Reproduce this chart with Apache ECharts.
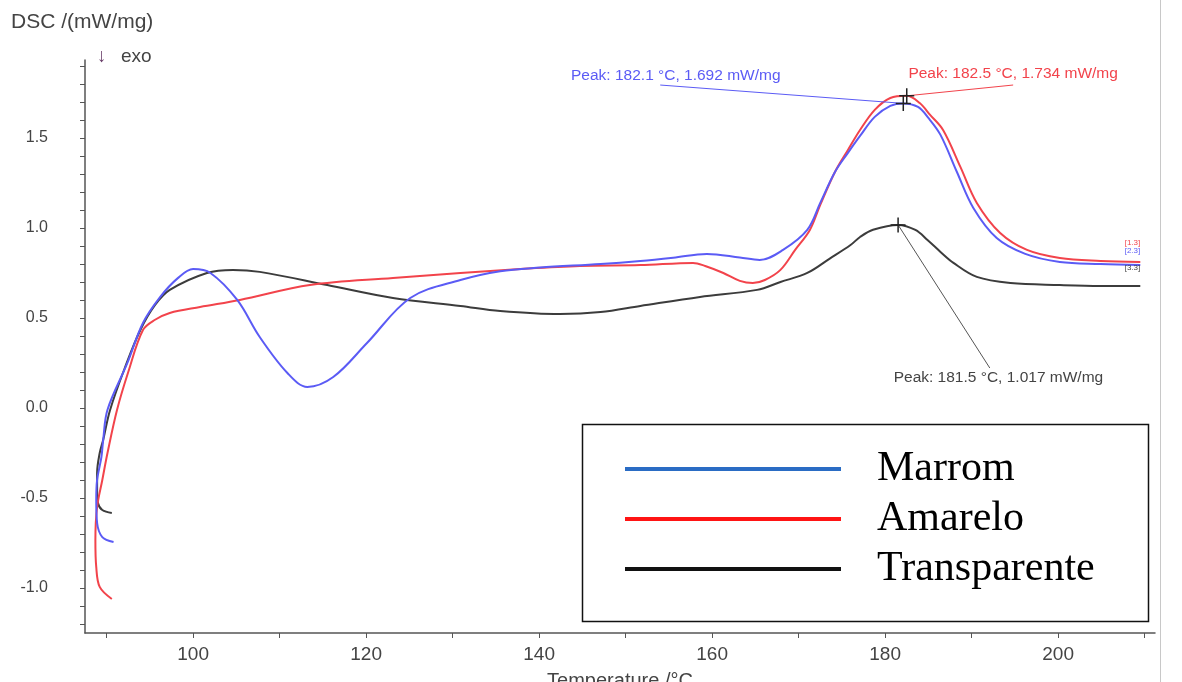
<!DOCTYPE html>
<html>
<head>
<meta charset="utf-8">
<title>DSC curves</title>
<script src="https://cdn.jsdelivr.net/npm/echarts@6/dist/echarts.min.js"></script>
<style>
  html, body { margin: 0; padding: 0; background: #ffffff; }
  #chart { width: 1182px; height: 682px; }
</style>
</head>
<body>
<div id="chart"></div>
<script>
// ── Data (temperature °C, DSC mW/mg) ─────────────────────────────────────────

var xTicks  = [90, 100, 110, 120, 130, 140, 150, 160, 170, 180, 190, 200, 210];
var xLabels = [100, 120, 140, 160, 180, 200];
var yTicks  = [-1.2, -1.1, -1.0, -0.9, -0.8, -0.7, -0.6, -0.5, -0.4, -0.3, -0.2, -0.1,
               0.0, 0.1, 0.2, 0.3, 0.4, 0.5, 0.6, 0.7, 0.8, 0.9, 1.0, 1.1, 1.2, 1.3,
               1.4, 1.5, 1.6, 1.7, 1.8, 1.9];
var yLabels = [-1.0, -0.5, 0.0, 0.5, 1.0, 1.5];

var names = ['Marrom', 'Amarelo', 'Transparente'];

var marrom = [
  [90.8, -0.744], [89.5, -0.717], [88.9, -0.639], [88.8, -0.511], [88.9, -0.40],
  [89.4, -0.272], [89.6, -0.178], [90.1, -0.01], [92.4, 0.25], [94.2, 0.472],
  [96.2, 0.617], [98.2, 0.72], [100.0, 0.772], [102.0, 0.75], [105.1, 0.60],
  [107.7, 0.394], [110.9, 0.194], [113.2, 0.117], [116.2, 0.172], [120.1, 0.361],
  [125.1, 0.611], [130.9, 0.711], [135.5, 0.76], [140.1, 0.78], [147.1, 0.80],
  [151.7, 0.817], [155.5, 0.835], [159.4, 0.856], [163.2, 0.836], [165.5, 0.822],
  [168.2, 0.878], [171.0, 0.989], [172.5, 1.139], [174.2, 1.311], [175.7, 1.417],
  [177.1, 1.511], [178.8, 1.617], [180.6, 1.678], [182.1, 1.692], [183.8, 1.672],
  [185.0, 1.611], [186.4, 1.517], [188.3, 1.311], [190.2, 1.111], [192.9, 0.944],
  [196.2, 0.856], [200.2, 0.811], [204.9, 0.80], [209.5, 0.794]
];

var amarelo = [
  [90.6, -1.061], [89.2, -0.994], [88.8, -0.883], [88.7, -0.733], [88.9, -0.55],
  [89.5, -0.40], [90.1, -0.25], [91.2, -0.011], [92.5, 0.20], [94.2, 0.433],
  [95.6, 0.49], [97.3, 0.528], [100.8, 0.561], [105.4, 0.60], [113.5, 0.683],
  [123.1, 0.722], [130.9, 0.75], [137.8, 0.772], [144.7, 0.789], [151.7, 0.794],
  [157.8, 0.806], [159.2, 0.789], [161.3, 0.75], [163.2, 0.706], [164.7, 0.694],
  [166.1, 0.711], [167.9, 0.767], [169.6, 0.878], [171.3, 0.989], [172.5, 1.128],
  [174.2, 1.311], [175.7, 1.433], [177.1, 1.544], [178.8, 1.656], [180.6, 1.722],
  [182.5, 1.734], [184.0, 1.694], [185.2, 1.628], [186.7, 1.544], [188.7, 1.339],
  [190.6, 1.139], [193.3, 0.972], [196.4, 0.878], [200.2, 0.833], [204.9, 0.817],
  [209.5, 0.811]
];

var transparente = [
  [90.6, -0.583], [89.5, -0.567], [89.0, -0.528], [88.9, -0.456], [88.9, -0.361],
  [89.2, -0.25], [89.6, -0.178], [90.4, -0.011], [92.1, 0.222], [93.9, 0.433],
  [95.6, 0.572], [97.3, 0.656], [101.6, 0.75], [104.6, 0.767], [107.7, 0.756],
  [115.5, 0.683], [123.1, 0.611], [130.9, 0.567], [135.5, 0.539], [142.4, 0.522],
  [147.1, 0.533], [151.7, 0.567], [158.6, 0.617], [165.2, 0.656], [167.9, 0.70],
  [171.0, 0.75], [173.6, 0.83], [176.0, 0.905], [177.1, 0.95], [178.6, 0.99],
  [181.5, 1.017], [183.5, 0.989], [184.9, 0.933], [186.4, 0.867], [187.9, 0.806],
  [190.6, 0.728], [194.5, 0.694], [200.2, 0.683], [204.9, 0.678], [209.5, 0.678]
];

// peak [T, DSC] and the text printed next to it
var peaks     = [[182.1, 1.692], [182.5, 1.734], [181.5, 1.017]];
var peakTexts = ['Peak: 182.1 °C, 1.692 mW/mg', 'Peak: 182.5 °C, 1.734 mW/mg', 'Peak: 181.5 °C, 1.017 mW/mg'];
var endTags   = ['[2.3]', '[1.3]', '[3.3]'];

(function () {
  'use strict';

  var FONT = '"Liberation Sans", Arial, sans-serif';
  var lineColors   = ['#5b5bf5', '#f2434b', '#3c3c3c'];
  var legendColors = ['#2a6cc4', '#ff1414', '#111111'];
  var PLUS = 'path://M9,0h2v20h-2z M0,9h20v2h-20z';

  // annotation placements, in data units
  var textAt   = [[155.8, 1.844], [194.8, 1.856], [193.1, 0.167]];
  var leaderTo = [[154.0, 1.794], [194.8, 1.794], [192.1, 0.222]];
  var tagAt    = [[208.6, 0.872], [208.6, 0.917], [208.6, 0.778]];

  function buildSeries(i, data) {
    return {
      name: names[i],
      type: 'line',
      data: data,
      smooth: 0.35,
      symbol: 'none',
      z: 3 - i,
      lineStyle: { color: lineColors[i], width: 2 },
      itemStyle: { color: lineColors[i] },
      markPoint: {
        silent: true,
        animation: false,
        data: [
          { coord: peaks[i], symbol: PLUS, symbolSize: 15, itemStyle: { color: '#222' }, label: { show: false } },
          {
            coord: textAt[i], symbol: 'circle', symbolSize: 1,
            itemStyle: { color: 'rgba(0,0,0,0)' },
            label: { show: true, position: 'inside', formatter: peakTexts[i],
                     color: i === 2 ? '#444' : lineColors[i], fontSize: 15.5, fontFamily: FONT }
          },
          {
            coord: tagAt[i], symbol: 'circle', symbolSize: 1,
            itemStyle: { color: 'rgba(0,0,0,0)' },
            label: { show: true, position: 'inside', formatter: endTags[i],
                     color: i === 2 ? '#444' : lineColors[i], fontSize: 8, fontFamily: FONT }
          }
        ]
      },
      markLine: {
        silent: true,
        animation: false,
        symbol: 'none',
        label: { show: false },
        lineStyle: { color: i === 2 ? '#555' : lineColors[i], width: 1, type: 'solid' },
        data: [[{ coord: leaderTo[i] }, { coord: peaks[i] }]]
      }
    };
  }

  var chart = echarts.init(document.getElementById('chart'), null, { renderer: 'canvas' });

  chart.setOption({
    animation: false,
    backgroundColor: '#ffffff',
    grid: { left: 85, right: 27, top: 60, bottom: 49, outerBoundsMode: 'none', containLabel: false },
    xAxis: {
      type: 'value',
      min: 87.5,
      max: 211.2,
      name: 'Temperature /°C',
      nameLocation: 'middle',
      nameGap: 38,
      nameTextStyle: { color: '#444', fontSize: 20, fontFamily: FONT },
      axisLine: { onZero: false, lineStyle: { color: '#555', width: 1.5 } },
      axisTick: { customValues: xTicks, length: 5, lineStyle: { color: '#555' } },
      axisLabel: { customValues: xLabels, color: '#444', fontSize: 19, fontFamily: FONT, margin: 12 },
      splitLine: { show: false }
    },
    yAxis: {
      type: 'value',
      min: -1.25,
      max: 1.933,
      axisLine: { show: true, onZero: false, lineStyle: { color: '#555', width: 1.5 } },
      axisTick: { show: true, customValues: yTicks, length: 5, lineStyle: { color: '#555' } },
      axisLabel: {
        customValues: yLabels, color: '#444', fontSize: 16, fontFamily: FONT, margin: 37,
        formatter: function (v) { return v.toFixed(1); }
      },
      splitLine: { show: false }
    },
    legend: {
      orient: 'vertical',
      left: 625,
      top: 446,
      padding: 0,
      itemWidth: 216,
      itemHeight: 4,
      itemGap: 4,
      icon: 'rect',
      selectedMode: false,
      textStyle: { color: '#000', fontSize: 42, lineHeight: 46,
                   fontFamily: '"Liberation Serif", "Times New Roman", serif', padding: [0, 0, 0, 31] },
      data: names.map(function (n, i) {
        return { name: n, itemStyle: { color: legendColors[i] }, lineStyle: { color: legendColors[i] } };
      })
    },
    graphic: [
      { type: 'text', left: 11, top: 12,
        style: { text: 'DSC /(mW/mg)', fill: '#444', font: '21px ' + FONT } },
      { type: 'text', left: 97, top: 47,
        style: { text: '↓', fill: '#6a3f6a', font: '19px ' + FONT } },
      { type: 'text', left: 121, top: 47,
        style: { text: 'exo', fill: '#444', font: '19px ' + FONT } },
      { type: 'rect', left: 580, top: 422, z: 10,
        shape: { width: 566, height: 197 },
        style: { fill: 'none', stroke: '#111', lineWidth: 1.5 } },
      { type: 'line', z: 10,
        shape: { x1: 1160.5, y1: 0, x2: 1160.5, y2: 682 },
        style: { stroke: '#c8c8c8', lineWidth: 1 } }
    ],
    series: [
      buildSeries(0, marrom),
      buildSeries(1, amarelo),
      buildSeries(2, transparente)
    ]
  });

  window.addEventListener('resize', function () { chart.resize(); });
})();
</script>
</body>
</html>
